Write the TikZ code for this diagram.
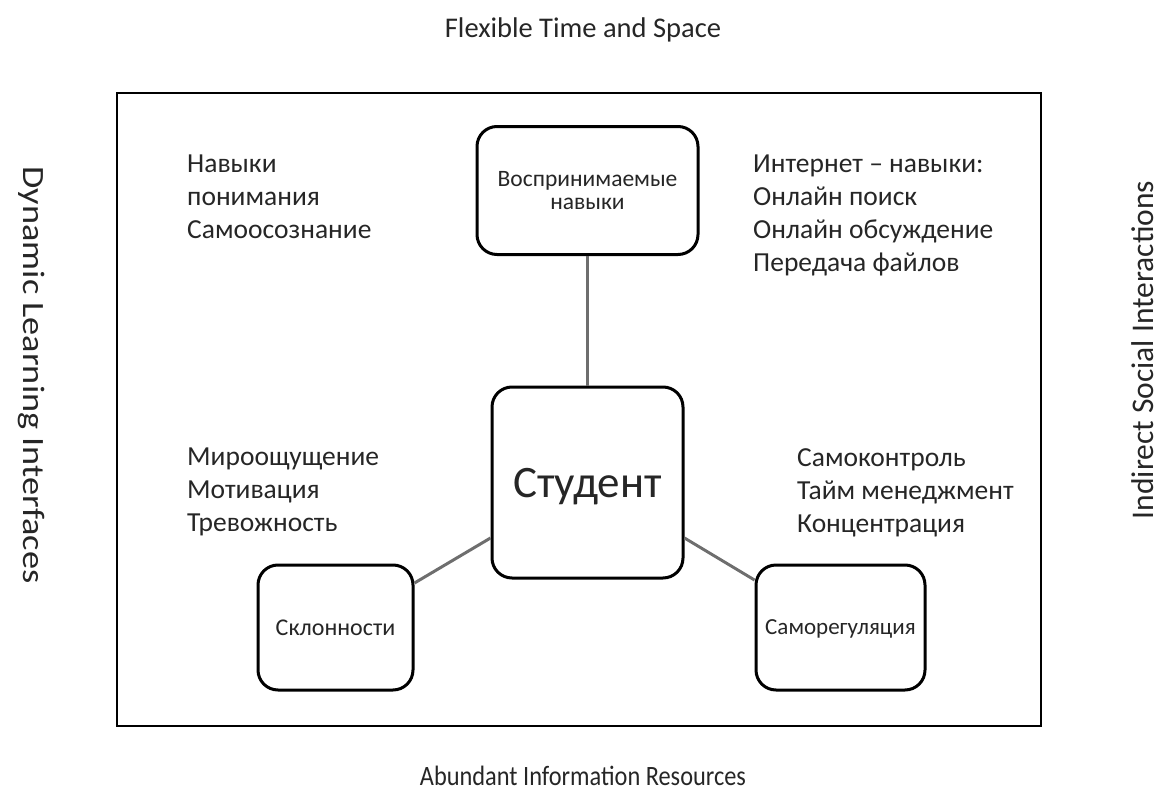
\documentclass[tikz,border=0pt]{standalone}
\usepackage{fontspec}
\usepackage{graphicx}
\setmainfont{Carlito}
\definecolor{txt}{HTML}{262626}
\definecolor{conn}{HTML}{6E6E6E}
\tikzset{
  box/.style={draw=black, line width=3pt, rounded corners=20pt, fill=white, text=txt, align=center, inner sep=0pt},
  side/.style={text=txt, font=\fontsize{27.5}{33}\selectfont, align=left, anchor=north west, inner sep=0pt},
  axis/.style={text=txt, inner sep=0pt},
  link/.style={draw=conn, line width=3pt}
}
\begin{document}
\begin{tikzpicture}[x=1pt,y=-1pt]
\useasboundingbox (0,0) rectangle (1165,808);
\node[draw=black, line width=1.5pt, minimum width=924pt, minimum height=633pt, inner sep=0pt] (frame) at (579,409.5) {};
\node[axis, font=\fontsize{28.5}{30}\selectfont, anchor=base] (top) at (583,38) {Flexible Time and Space};
\node[axis, font=\fontsize{28}{30}\selectfont, anchor=base] (bottom) at (583,785) {\scalebox{0.87}[1]{Abundant Information Resources}};
\node[axis, font=\fontsize{31}{33}\selectfont, rotate=-90] (left) at (31,375) {\scalebox{1.17}[1]{Dynamic Learning Interfaces}};
\node[axis, font=\fontsize{31.5}{33}\selectfont, rotate=90] (right) at (1143,350) {Indirect Social Interactions};

\node[box, minimum width=221pt, minimum height=128pt, font=\fontsize{23.5}{23}\selectfont] (perc) at (587.5,190.5) {Воспринимаемые\\навыки};
\node[box, minimum width=191pt, minimum height=191pt, text depth=0pt, font=\fontsize{45}{48}\selectfont] (stud) at (587.5,482.5) {Студент};
\node[box, minimum width=155pt, minimum height=125pt, text depth=0pt, font=\fontsize{24}{26}\selectfont] (incl) at (335.5,627.5) {Склонности};
\node[box, minimum width=169pt, minimum height=125pt, text depth=0pt, font=\fontsize{23}{26}\selectfont] (selfreg) at (840.5,627.5) {Саморегуляция};

\draw[link] (perc.south) -- (stud.north);
\draw[link] (stud.west |- 0,538) -- (incl.east |- 0,583);
\draw[link] (stud.east |- 0,538) -- (selfreg.west |- 0,580);

\node[side] (tl) at (187,155) {Навыки\\понимания\\Самоосознание};
\node[side] (tr) at (753,155) {Интернет – навыки:\\Онлайн поиск\\Онлайн обсуждение\\Передача файлов};
\node[side] (ml) at (187,448) {Мироощущение\\Мотивация\\Тревожность};
\node[side] (mr) at (797,448) {Самоконтроль\\Тайм менеджмент\\Концентрация};
\end{tikzpicture}
\end{document}
